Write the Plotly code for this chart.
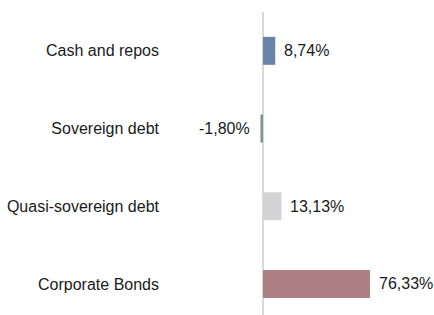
import plotly.graph_objects as go

categories = ["Cash and repos", "Sovereign debt", "Quasi-sovereign debt", "Corporate Bonds"]
values = [8.74, -1.80, 13.13, 76.33]
colors = ["#6a84a8", "#7d9689", "#d3d3d5", "#ab7f83"]
labels = [f"{v:.2f}%".replace(".", ",") for v in values]

fig = go.Figure()
fig.add_trace(go.Bar(
    x=values, y=categories, orientation="h",
    marker=dict(color=colors, line=dict(width=0)),
    width=0.36, hoverinfo="skip",
))

for v, c, t in zip(values, categories, labels):
    fig.add_annotation(
        x=v, y=c, text=t, showarrow=False,
        xanchor="left" if v >= 0 else "right",
        xshift=7 if v >= 0 else -8,
        font=dict(family="Liberation Sans, Arial, sans-serif", size=16, color="#1a1a1a"),
    )

fig.update_layout(
    width=434, height=315,
    margin=dict(l=165, r=0, t=12, b=0, autoexpand=False),
    paper_bgcolor="white", plot_bgcolor="white",
    showlegend=False,
    font=dict(family="Liberation Sans, Arial, sans-serif", size=16, color="#1a1a1a"),
    xaxis=dict(range=[-69.9, 122], showgrid=False, showticklabels=False, ticks="",
               zeroline=True, zerolinecolor="#d9d9d9", zerolinewidth=2, showline=False,
               automargin=False, fixedrange=True),
    yaxis=dict(categoryorder="array", categoryarray=categories, range=[3.40, -0.5],
               showgrid=False, zeroline=False, showline=False, ticks="",
               ticklabelstandoff=5, automargin=False, fixedrange=True),
)

fig.write_html(
    "out.html",
    config={"displayModeBar": False, "staticPlot": True},
    post_script="document.body.style.margin='0';document.body.style.overflow='hidden';",
)
